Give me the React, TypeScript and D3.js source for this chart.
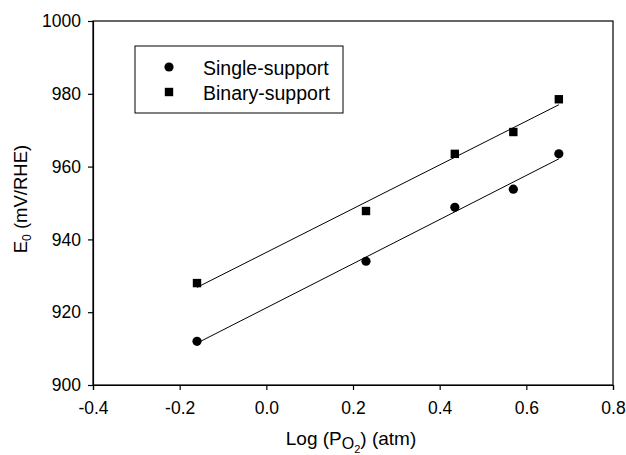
import React, { useEffect, useRef } from 'react';
import * as d3 from 'd3';

// data
const logPO2 = [-0.16, 0.23, 0.435, 0.57, 0.675];
const singleSupport = [912, 934, 948.8, 953.8, 963.5];
const binarySupport = [928, 947.8, 963.5, 969.5, 978.5];
const xTicks = [-0.4, -0.2, 0.0, 0.2, 0.4, 0.6, 0.8];
const yTicks = [900, 920, 940, 960, 980, 1000];
const seriesNames = ['Single-support', 'Binary-support'];

const FONT = '"Liberation Sans", Arial, Helvetica, sans-serif';

const fit = (xs: number[], ys: number[]) => {
  const mx = d3.mean(xs)!;
  const my = d3.mean(ys)!;
  const sxy = d3.sum(xs, (x, i) => (x - mx) * (ys[i] - my));
  const sxx = d3.sum(xs, (x) => (x - mx) * (x - mx));
  const b = sxy / sxx;
  return (x: number) => my + b * (x - mx);
};

const App = () => {
  const ref = useRef<SVGSVGElement | null>(null);

  useEffect(() => {
    const svg = d3.select(ref.current);
    svg.selectAll('*').remove();

    const left = 93, right = 613, top = 21, bottom = 385;
    const x = d3.scaleLinear().domain([-0.4, 0.8]).range([left, right]);
    const y = d3.scaleLinear().domain([900, 1000]).range([bottom, top]);

    // frame
    svg.append('rect')
      .attr('x', left).attr('y', top)
      .attr('width', right - left).attr('height', bottom - top)
      .attr('fill', 'none').attr('stroke', '#000').attr('stroke-width', 1.2);

    // plain hyphen for negatives, like the original
    const fmtX = (d: any) => d3.format('.1f')(d).replace('\u2212', '-');

    const xAxis = svg.append('g')
      .attr('transform', `translate(0,${bottom})`)
      .call(d3.axisBottom(x).tickValues(xTicks).tickFormat(fmtX).tickSize(5).tickPadding(12));
    const yAxis = svg.append('g')
      .attr('transform', `translate(${left},0)`)
      .call(d3.axisLeft(y).tickValues(yTicks).tickFormat(d3.format('d')).tickSize(5).tickPadding(7));
    [xAxis, yAxis].forEach((g) => {
      g.select('.domain').attr('stroke-width', 1.2);
      g.selectAll('line').attr('stroke-width', 1.2);
      g.selectAll('text').attr('font-family', FONT).attr('font-size', 17.5).attr('fill', '#000');
    });

    // regression lines
    const sets = [singleSupport, binarySupport];
    sets.forEach((vals) => {
      const f = fit(logPO2, vals);
      const x0 = logPO2[0], x1 = logPO2[logPO2.length - 1];
      svg.append('line')
        .attr('x1', x(x0)).attr('y1', y(f(x0)))
        .attr('x2', x(x1)).attr('y2', y(f(x1)))
        .attr('stroke', '#000').attr('stroke-width', 1);
    });

    // markers
    svg.selectAll('.single')
      .data(singleSupport)
      .enter()
      .append('circle')
      .attr('cx', (d, i) => x(logPO2[i]))
      .attr('cy', (d) => y(d))
      .attr('r', 4.6)
      .attr('fill', '#000');

    svg.selectAll('.binary')
      .data(binarySupport)
      .enter()
      .append('rect')
      .attr('x', (d, i) => x(logPO2[i]) - 4.2)
      .attr('y', (d) => y(d) - 4.2)
      .attr('width', 8.4)
      .attr('height', 8.4)
      .attr('fill', '#000');

    // legend
    const lg = svg.append('g');
    lg.append('rect')
      .attr('x', 135).attr('y', 46).attr('width', 208).attr('height', 67)
      .attr('fill', '#fff').attr('stroke', '#000').attr('stroke-width', 1);
    lg.append('circle').attr('cx', 169).attr('cy', 67).attr('r', 4.6).attr('fill', '#000');
    lg.append('rect').attr('x', 164.8).attr('y', 87.8).attr('width', 8.4).attr('height', 8.4).attr('fill', '#000');
    seriesNames.forEach((name, i) => {
      lg.append('text')
        .attr('x', 203).attr('y', 75 + i * 25)
        .attr('font-family', FONT).attr('font-size', 19.5)
        .text(name);
    });

    // axis titles
    const xt = svg.append('text')
      .attr('x', 351).attr('y', 445)
      .attr('text-anchor', 'middle')
      .attr('font-family', FONT).attr('font-size', 19);
    xt.append('tspan').text('Log (P');
    xt.append('tspan').attr('font-size', 16).attr('dy', 4).text('O');
    xt.append('tspan').attr('font-size', 11).attr('dy', 4).text('2');
    xt.append('tspan').attr('dy', -8).text(') (atm)');

    const yt = svg.append('text')
      .attr('transform', `translate(27,199) rotate(-90)`)
      .attr('text-anchor', 'middle')
      .attr('font-family', FONT).attr('font-size', 18.5);
    yt.append('tspan').text('E');
    yt.append('tspan').attr('font-size', 12).attr('dy', 4).text('0');
    yt.append('tspan').attr('dy', -4).text(' (mV/RHE)');
  }, []);

  return (
    <svg
      ref={ref}
      width={626}
      height={455}
      style={{ position: 'absolute', left: 0, top: 0, background: '#fff' }}
    />
  );
};

export default App;
